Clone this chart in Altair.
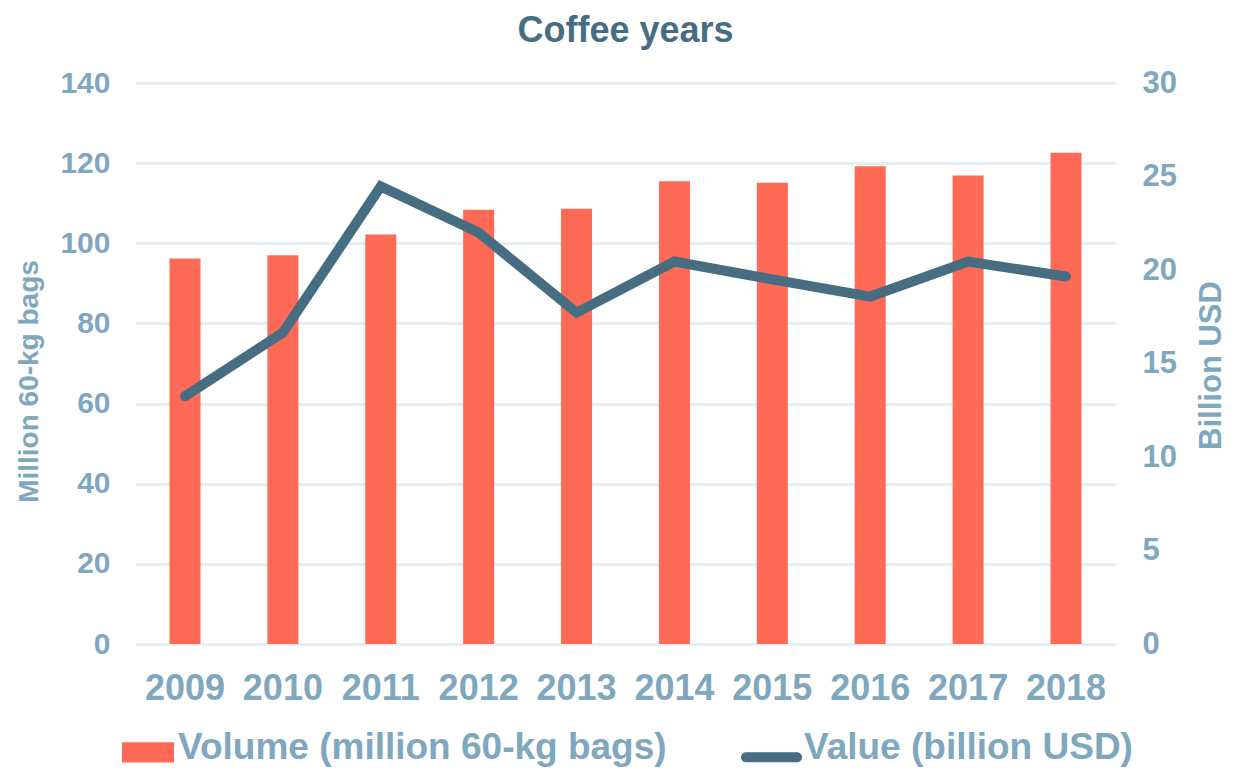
import altair as alt
import pandas as pd

years = ["2009", "2010", "2011", "2012", "2013", "2014", "2015", "2016", "2017", "2018"]
volume = [96.2, 97.0, 102.2, 108.4, 108.6, 115.5, 115.1, 119.2, 116.9, 122.6]
value = [13.25, 16.65, 24.47, 22.0, 17.72, 20.45, 19.5, 18.58, 20.45, 19.65]

vol_name = "Volume (million 60-kg bags)"
val_name = "Value (billion USD)"

df = pd.DataFrame({
    "year": years,
    "volume": volume,
    "value": value,
    "vs": [vol_name] * len(years),
    "ls": [val_name] * len(years),
})

RED = "#FF6A56"
DARK = "#476D82"
LIGHT = "#7FA7BD"
GRID = "#E3ECF0"
FONT = "Liberation Sans"

x_enc = alt.X(
    "year:N",
    title=None,
    scale=alt.Scale(paddingInner=0.683, paddingOuter=0.342),
    axis=alt.Axis(labelAngle=0, labelFontSize=36, labelPadding=27, ticks=False,
                  tickSize=0, domain=False, grid=False, labelColor=LIGHT,
                  labelFont=FONT, labelFontWeight="bold"),
)

bars = alt.Chart(df).mark_bar(color=RED).encode(
    x=x_enc,
    y=alt.Y(
        "volume:Q",
        title="Million 60-kg bags",
        scale=alt.Scale(domain=[0, 140], nice=False),
        axis=alt.Axis(values=[0, 20, 40, 60, 80, 100, 120, 140], orient="left",
                      grid=True, gridColor=GRID, gridWidth=2.5, domain=False,
                      ticks=False, tickSize=0, labelPadding=26,
                      labelFontSize=30, labelColor=LIGHT, labelFont=FONT,
                      labelFontWeight="bold", titleFontSize=28, titleColor=LIGHT,
                      titleFont=FONT, titleFontWeight="bold",
                      titleX=-107, titleY=298, titleAlign="center",
                      titleBaseline="middle"),
    ),
    color=alt.Color(
        "vs:N",
        scale=alt.Scale(domain=[vol_name], range=[RED]),
        legend=alt.Legend(
            title=None, orient="none", legendX=-14, legendY=639,
            symbolType="M-1,-0.22H1V0.56H-1Z", symbolSize=2704,
            symbolStrokeWidth=0, labelFontSize=37, labelColor=LIGHT,
            labelFont=FONT, labelFontWeight="bold", labelOffset=4,
            labelLimit=1000,
        ),
    ),
)

line = alt.Chart(df).mark_line(color=DARK, strokeWidth=10, strokeCap="round").encode(
    x=x_enc,
    y=alt.Y(
        "value:Q",
        title="Billion USD",
        scale=alt.Scale(domain=[0, 30], nice=False),
        axis=alt.Axis(values=[0, 5, 10, 15, 20, 25, 30], orient="right",
                      grid=False, domain=False, ticks=False, tickSize=0,
                      labelPadding=27, labelFontSize=31, labelColor=LIGHT,
                      labelFont=FONT, labelFontWeight="bold", titleFontSize=31,
                      titleColor=LIGHT, titleFont=FONT, titleFontWeight="bold",
                      titleAngle=270, titleX=96, titleY=282,
                      titleAlign="center", titleBaseline="middle"),
    ),
    color=alt.Color(
        "ls:N",
        scale=alt.Scale(domain=[val_name], range=[DARK]),
        legend=alt.Legend(
            title=None, orient="none", legendX=605, legendY=634.5,
            symbolType="M-0.836,0.136H0.836A0.164,0.164 0 0 1 0.836,0.464H-0.836A0.164,0.164 0 0 1 -0.836,0.136Z",
            symbolSize=3721, symbolStrokeWidth=0, symbolFillColor=DARK,
            labelFontSize=37, labelColor=LIGHT, labelFont=FONT,
            labelFontWeight="bold", labelOffset=2, labelLimit=1000,
        ),
    ),
)

chart = alt.layer(bars, line).resolve_scale(
    y="independent", color="independent"
).properties(
    width=979,
    height=561,
    autosize=alt.AutoSizeParams(type="none"),
    padding={"left": 128, "top": 75, "right": 115, "bottom": 124},
    title=alt.TitleParams(
        "Coffee years", fontSize=36, font=FONT, fontWeight="bold",
        color=DARK, anchor="middle", offset=17,
    ),
).configure(background="white").configure_view(strokeWidth=0)

chart.save("out.html", embed_options={"renderer": "svg", "actions": False})
